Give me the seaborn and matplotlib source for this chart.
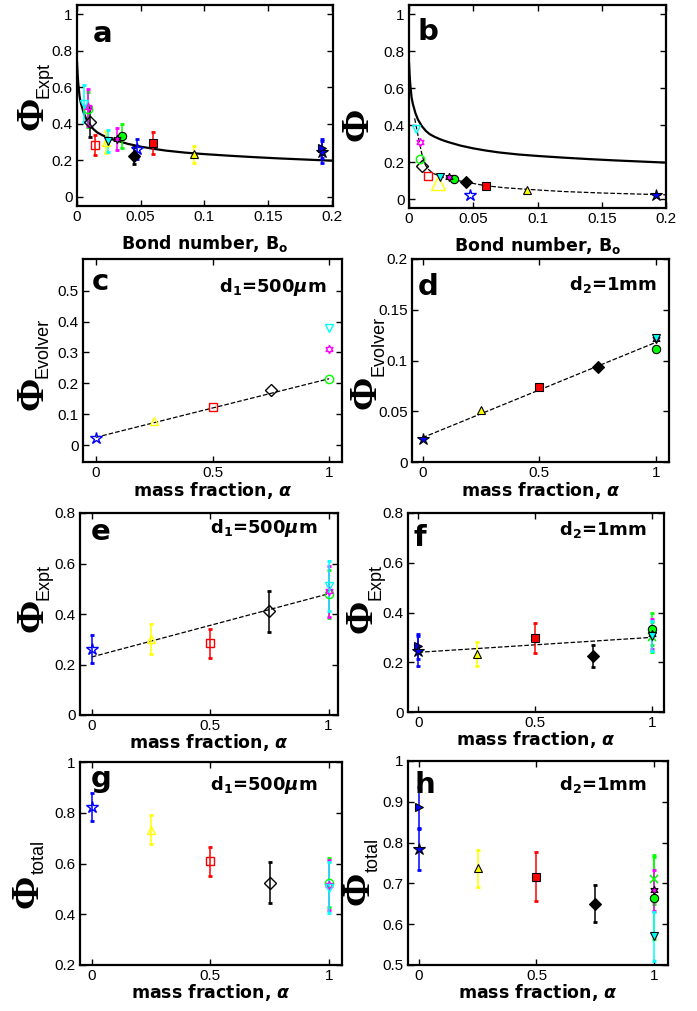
import matplotlib
matplotlib.use('Agg')
import matplotlib.pyplot as plt
import seaborn as sns
from matplotlib.ticker import FuncFormatter

sns.set_style('ticks', {'text.color': 'black', 'axes.labelcolor': 'black',
                        'xtick.color': 'black', 'ytick.color': 'black'})
plt.rcParams['font.family'] = ['Liberation Sans', 'DejaVu Sans']
plt.rcParams['mathtext.fontset'] = 'custom'
plt.rcParams['mathtext.rm'] = 'Liberation Serif'
plt.rcParams['mathtext.sf'] = 'Liberation Sans'
plt.rcParams['mathtext.it'] = 'DejaVu Sans:italic:bold'
plt.rcParams['mathtext.bf'] = 'DejaVu Sans:bold'

# fluids: blue, yellow, red, black, green, magenta, cyan
colors = ['#0000ff', '#ffff00', '#ff0000', '#000000', '#00ff00', '#ff00ff', '#00ffff']
markers = ['*', '^', 's', 'D', 'o', (6, 1, 0), 'v']
alpha_frac = [0, 0.25, 0.5, 0.75, 1, 1, 1]

# d1 = 500 um (open markers)
bond_500 = [0.0475, 0.0229, 0.0145, 0.0104, 0.0089, 0.0085, 0.0055]
evolver_500 = [0.022, 0.078, 0.122, 0.178, 0.215, 0.31, 0.38]
evolver_500_b = [0.022, 0.088, 0.125, 0.178, 0.215, 0.31, 0.38]
expt_500 = [0.262, 0.30, 0.284, 0.41, 0.48, 0.49, 0.51]
expt_500_err = [0.055, 0.06, 0.057, 0.08, 0.095, 0.1, 0.1]
total_500 = [0.823, 0.733, 0.608, 0.525, 0.525, 0.515, 0.505]
total_500_err = [0.054, 0.058, 0.057, 0.081, 0.095, 0.097, 0.1]

# d2 = 1 mm (filled markers)
bond_1mm = [0.192, 0.0915, 0.0598, 0.0445, 0.0350, 0.0312, 0.0242]
evolver_1mm = [0.023, 0.051, 0.074, 0.094, 0.111, 0.121, 0.122]
expt_1mm = [0.244, 0.232, 0.297, 0.225, 0.335, 0.315, 0.305]
expt_1mm_err = [0.06, 0.048, 0.06, 0.046, 0.065, 0.06, 0.06]
total_1mm = [0.784, 0.737, 0.716, 0.65, 0.664, 0.683, 0.571]
total_1mm_err = [0.05, 0.046, 0.06, 0.045, 0.1, 0.05, 0.06]

# extra repeat runs at 1 mm (blue right-triangle, green cross)
extra_1mm_colors = ['#0000ff', '#00ff00']
extra_1mm_markers = ['>', 'x']
extra_1mm_alpha = [0, 1]
extra_1mm_bond = [0.192, None]
extra_expt_1mm = [0.265, 0.30]
extra_total_1mm = [0.887, 0.71]
extra_err_1mm = [0.05, 0.06]

model_bond = [0, 0.0005, 0.001, 0.002, 0.003, 0.005, 0.007, 0.01, 0.013, 0.016,
              0.02, 0.025, 0.03, 0.04, 0.05, 0.06, 0.07, 0.085, 0.1, 0.12,
              0.14, 0.16, 0.18, 0.2]
model_phi = [0.74, 0.67, 0.62, 0.55, 0.515, 0.465, 0.43, 0.395, 0.37, 0.352,
             0.337, 0.322, 0.31, 0.29, 0.275, 0.263, 0.253, 0.242, 0.234, 0.225,
             0.217, 0.21, 0.204, 0.198]
fit_bond = [0.0044, 0.006, 0.008, 0.010, 0.012, 0.0145, 0.0187, 0.0265, 0.035,
            0.0448, 0.060, 0.075, 0.0916, 0.12, 0.15, 0.2]
fit_phi = [0.437, 0.38, 0.31, 0.245, 0.195, 0.165, 0.14, 0.119, 0.105,
           0.092, 0.073, 0.062, 0.054, 0.042, 0.034, 0.024]

# linear fits vs mass fraction: values at alpha = 0 and alpha = 1
fit_alpha = [0, 1]
fit_c = [0.025, 0.215]
fit_d = [0.024, 0.118]
fit_e = [0.23, 0.48]
fit_f = [0.24, 0.30]

W, H = 697, 1011
fig = plt.figure(figsize=(W / 100, H / 100), dpi=100)


def add_ax(l, r, t, b):
    return fig.add_axes([l / W, 1 - b / H, (r - l) / W, (b - t) / H])


fmt = FuncFormatter(lambda v, p: '%g' % round(v, 4))


def style(ax, xlim, ylim, xticks, yticks):
    ax.set_xlim(*xlim)
    ax.set_ylim(*ylim)
    ax.set_xticks(xticks)
    ax.set_yticks(yticks)
    ax.xaxis.set_major_formatter(fmt)
    ax.yaxis.set_major_formatter(fmt)
    ax.tick_params(direction='in', top=True, right=True, length=4, width=1,
                   labelsize=11, colors='black', pad=3)
    for s in ax.spines.values():
        s.set_linewidth(1.6)
        s.set_color('black')


def point(ax, x, y, c, m, filled, err=None, ms=6):
    if err is not None:
        ax.errorbar([x], [y], yerr=[err], fmt='none', ecolor=c, elinewidth=1.1,
                    capsize=1.5, capthick=2, zorder=2)
    if m == '*':
        ms = ms + 3
    if m == 'x':
        ax.plot([x], [y], marker='x', ms=ms, color=c, mew=1.2, ls='none', zorder=3)
    elif filled:
        ax.plot([x], [y], marker=m, ms=ms, mfc=c, mec='black', mew=0.8, ls='none', zorder=3)
    else:
        ax.plot([x], [y], marker=m, ms=ms, mfc='none', mec=c, mew=1.0, ls='none', zorder=3)


def ylab(ax, sub, phi_off, sub_off=None):
    # big serif Phi with a small sans subscript, rotated like a y label
    ax.annotate('\u03a6', xy=(0, 0.5), xycoords='axes fraction', xytext=phi_off,
                textcoords='offset pixels', rotation=90, ha='center', va='center',
                fontsize=29, family='Liberation Serif', fontweight='bold')
    if sub:
        ax.annotate(sub, xy=(0, 0.5), xycoords='axes fraction', xytext=sub_off,
                    textcoords='offset pixels', rotation=90, ha='center', va='center',
                    fontsize=13, family='Liberation Sans')


def letter(ax, s, x, y):
    ax.text(x, y, s, transform=ax.transAxes, fontsize=21, fontweight='bold',
            family='DejaVu Sans', va='baseline', ha='left')


def note(ax, s, x, y):
    ax.text(x, y, s, transform=ax.transAxes, fontsize=13, fontweight='bold',
            family='DejaVu Sans', va='baseline', ha='right')


lab_kw = dict(fontsize=12.5, fontweight='bold', family='DejaVu Sans')
bond_label = r'Bond number, B$_{\mathbf{o}}$'
alpha_label = r'mass fraction, $\alpha$'
d1 = r'd$_{\mathbf{1}}$=500$\mu$m'
d2 = r'd$_{\mathbf{2}}$=1mm'

# ---- a ----
ax = add_ax(77, 333, 5, 206)
sns.lineplot(x=model_bond, y=model_phi, ax=ax, color='black', lw=1.6, sort=False)
for i in range(7):
    point(ax, bond_500[i], expt_500[i], colors[i], markers[i], False, expt_500_err[i])
for i in range(7):
    point(ax, bond_1mm[i], expt_1mm[i], colors[i], markers[i], True, expt_1mm_err[i])
point(ax, extra_1mm_bond[0], extra_expt_1mm[0], extra_1mm_colors[0], extra_1mm_markers[0], True, extra_err_1mm[0])
style(ax, (0, 0.201), (-0.05, 1.05), [0, 0.05, 0.1, 0.15, 0.2], [0, 0.2, 0.4, 0.6, 0.8, 1])
ylab(ax, 'Expt', (-44, -8), (-33, 25))
ax.set_xlabel(bond_label, labelpad=6, **lab_kw)
letter(ax, 'a', 0.06, 0.815)

# ---- b ----
ax = add_ax(409, 666, 5, 208)
sns.lineplot(x=model_bond, y=model_phi, ax=ax, color='black', lw=1.6, sort=False)
sns.lineplot(x=fit_bond, y=fit_phi, ax=ax, color='black', lw=0.9, ls='--', sort=False)
for i in range(7):
    ms = 10 if i == 1 else 6
    point(ax, bond_500[i], evolver_500_b[i], colors[i], markers[i], False, ms=ms)
for i in range(7):
    point(ax, bond_1mm[i], evolver_1mm[i], colors[i], markers[i], True)
style(ax, (0, 0.2), (-0.047, 1.049), [0, 0.05, 0.1, 0.15, 0.2], [0, 0.2, 0.4, 0.6, 0.8, 1])
ylab(ax, None, (-51, -18))
ax.set_xlabel(bond_label, labelpad=6, **lab_kw)
letter(ax, 'b', 0.035, 0.83)

# ---- c ----
ax = add_ax(83, 342, 259, 462)
sns.lineplot(x=fit_alpha, y=fit_c, ax=ax, color='black', lw=0.9, ls='--')
for i in range(7):
    point(ax, alpha_frac[i], evolver_500[i], colors[i], markers[i], False)
style(ax, (-0.055, 1.055), (-0.055, 0.603), [0, 0.5, 1], [0, 0.1, 0.2, 0.3, 0.4, 0.5])
ylab(ax, 'Evolver', (-50, -33), (-40, 13))
ax.set_xlabel(alpha_label, labelpad=0, **lab_kw)
letter(ax, 'c', 0.035, 0.847)
note(ax, d1, 0.942, 0.837)

# ---- d ----
ax = add_ax(412, 669, 259, 462)
sns.lineplot(x=fit_alpha, y=fit_d, ax=ax, color='black', lw=0.9, ls='--')
for i in range(7):
    point(ax, alpha_frac[i], evolver_1mm[i], colors[i], markers[i], True)
style(ax, (-0.045, 1.055), (0, 0.2), [0, 0.5, 1], [0, 0.05, 0.1, 0.15, 0.2])
ylab(ax, 'Evolver', (-46, -32), (-33, 15))
ax.set_xlabel(alpha_label, labelpad=0, **lab_kw)
letter(ax, 'd', 0.023, 0.823)
note(ax, d2, 0.953, 0.847)

# ---- e ----
ax = add_ax(80, 338, 513, 715)
sns.lineplot(x=fit_alpha, y=fit_e, ax=ax, color='black', lw=0.9, ls='--')
for i in range(7):
    point(ax, alpha_frac[i], expt_500[i], colors[i], markers[i], False, expt_500_err[i])
style(ax, (-0.05, 1.04), (0, 0.8), [0, 0.5, 1], [0, 0.2, 0.4, 0.6, 0.8])
ylab(ax, 'Expt', (-47, -1), (-36, 32))
ax.set_xlabel(alpha_label, labelpad=-1, **lab_kw)
letter(ax, 'e', 0.04, 0.866)
note(ax, d1, 0.92, 0.9)

# ---- f ----
ax = add_ax(408, 664, 513, 712)
sns.lineplot(x=fit_alpha, y=fit_f, ax=ax, color='black', lw=0.9, ls='--')
for j in range(2):
    point(ax, extra_1mm_alpha[j], extra_expt_1mm[j], extra_1mm_colors[j], extra_1mm_markers[j], True, extra_err_1mm[j])
for i in range(7):
    point(ax, alpha_frac[i], expt_1mm[i], colors[i], markers[i], True, expt_1mm_err[i])
style(ax, (-0.045, 1.053), (0, 0.8), [0, 0.5, 1], [0, 0.2, 0.4, 0.6, 0.8])
ylab(ax, 'Expt', (-46, -4), (-32, 30))
ax.set_xlabel(alpha_label, labelpad=-1, **lab_kw)
letter(ax, 'f', 0.02, 0.834)
note(ax, d2, 0.934, 0.89)

# ---- g ----
ax = add_ax(80, 342, 762, 965)
for i in range(7):
    point(ax, alpha_frac[i], total_500[i], colors[i], markers[i], False, total_500_err[i])
style(ax, (-0.05, 1.055), (0.2, 1.0), [0, 0.5, 1], [0.2, 0.4, 0.6, 0.8, 1])
ylab(ax, 'total', (-52, -28), (-41, 7))
ax.set_xlabel(alpha_label, labelpad=-1, **lab_kw)
letter(ax, 'g', 0.04, 0.877)
note(ax, d1, 0.905, 0.862)

# ---- h ----
ax = add_ax(408, 668, 761, 965)
for j in range(2):
    point(ax, extra_1mm_alpha[j], extra_total_1mm[j], extra_1mm_colors[j], extra_1mm_markers[j], True, extra_err_1mm[j])
for i in range(7):
    point(ax, alpha_frac[i], total_1mm[i], colors[i], markers[i], True, total_1mm_err[i])
style(ax, (-0.045, 1.058), (0.5, 1.0), [0, 0.5, 1], [0.5, 0.6, 0.7, 0.8, 0.9, 1])
ylab(ax, 'total', (-49, -25), (-35, 8))
ax.set_xlabel(alpha_label, labelpad=-1, **lab_kw)
letter(ax, 'h', 0.025, 0.843)
note(ax, d2, 0.92, 0.858)

fig.savefig('out.png', dpi=100, facecolor='white')
